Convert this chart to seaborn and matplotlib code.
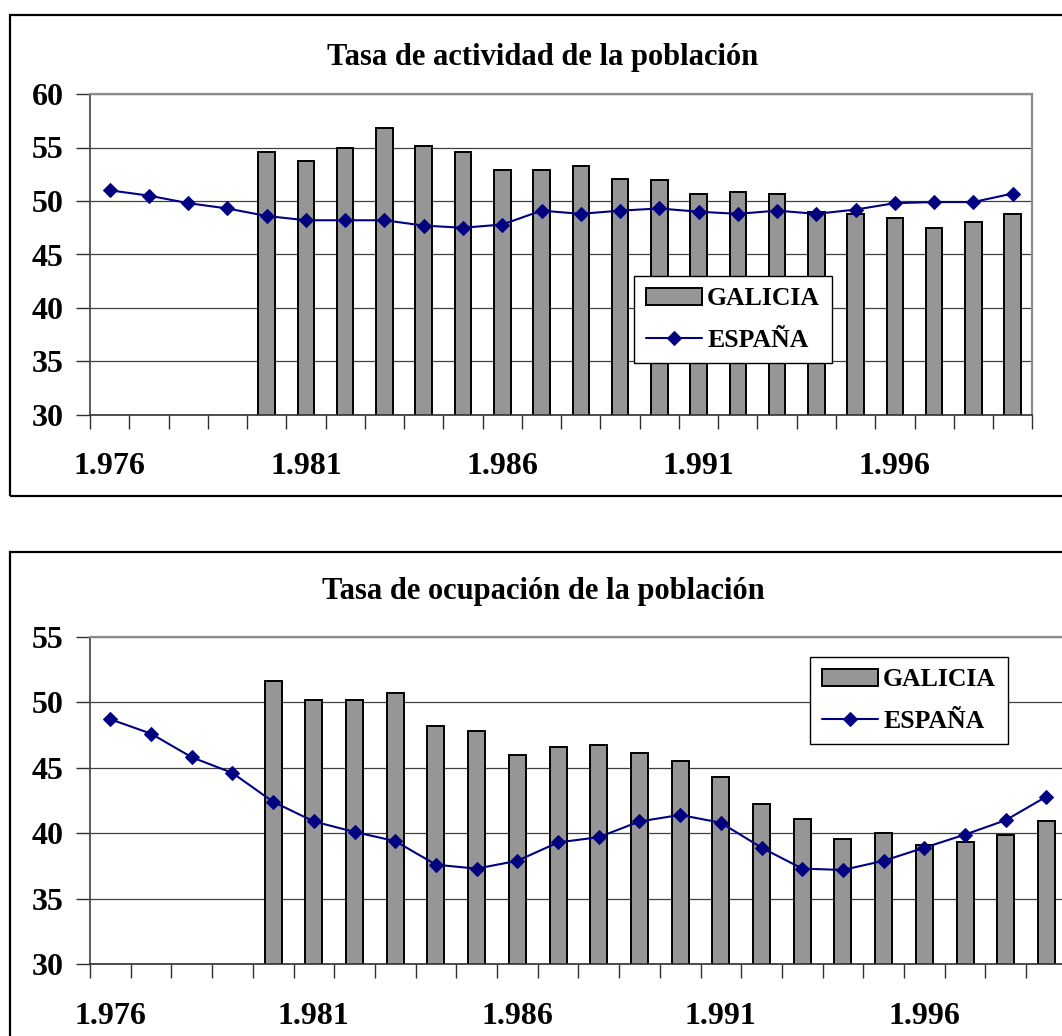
import numpy as np
import pandas as pd
import matplotlib
matplotlib.use("Agg")
import matplotlib.pyplot as plt
from matplotlib.patches import Rectangle
from matplotlib.ticker import FixedLocator, NullFormatter, FixedFormatter
import seaborn as sns

# Years shown on the category axis
years = list(range(1976, 2000))
tick_years = [1976, 1981, 1986, 1991, 1996]
tick_labels = ["1.976", "1.981", "1.986", "1.991", "1.996"]

# Activity rate (%)
actividad_galicia = [np.nan, np.nan, np.nan, np.nan,
                     54.6, 53.7, 55.0, 56.8, 55.1, 54.6, 52.9, 52.9, 53.3,
                     52.1, 52.0, 50.7, 50.8, 50.7, 49.0, 48.8, 48.4, 47.5,
                     48.0, 48.8]
actividad_espana = [51.0, 50.5, 49.8, 49.3, 48.6, 48.2, 48.2, 48.2, 47.7,
                    47.5, 47.8, 49.1, 48.8, 49.1, 49.3, 49.0, 48.8, 49.1,
                    48.8, 49.2, 49.8, 49.9, 49.9, 50.7]

# Employment rate (%)
ocupacion_galicia = [np.nan, np.nan, np.nan, np.nan,
                     51.6, 50.2, 50.2, 50.7, 48.2, 47.8, 46.0, 46.6, 46.7,
                     46.1, 45.5, 44.3, 42.2, 41.1, 39.6, 40.0, 39.1, 39.3,
                     39.9, 40.9]
ocupacion_espana = [48.7, 47.6, 45.8, 44.6, 42.4, 40.9, 40.1, 39.4, 37.6,
                    37.3, 37.9, 39.3, 39.7, 40.9, 41.4, 40.8, 38.9, 37.3,
                    37.2, 37.9, 38.9, 39.9, 41.0, 42.8]

sns.set_style("white")
plt.rcParams["font.family"] = ["Liberation Serif", "DejaVu Serif"]
plt.rcParams["font.weight"] = "bold"
plt.rcParams["text.color"] = "black"
plt.rcParams["xtick.labelcolor"] = "black"
plt.rcParams["ytick.labelcolor"] = "black"

W, H = 1062, 1036
fig = plt.figure(figsize=(W / 100, H / 100), dpi=100)

BAR_COLOR = "#969696"
LINE_COLOR = "#000080"
TICK_FS = 23
LEGEND_FS = 18.5
TITLE_FS = 22


def fx(px):
    return px / W


def fy(py):
    return 1 - py / H


def draw_panel(ax, galicia, espana, ylim, title, title_y, legend_xy):
    df = pd.DataFrame({
        "year": [str(y) for y in years],
        "pos": np.arange(len(years)),
        "GALICIA": galicia,
        "ESPAÑA": espana,
    })
    order = [str(y) for y in years]
    sns.barplot(data=df, x="year", y="GALICIA", order=order, ax=ax,
                color=BAR_COLOR, saturation=1, width=0.42,
                edgecolor="black", linewidth=1.4, label="GALICIA")
    sns.lineplot(data=df, x="pos", y="ESPAÑA", ax=ax, color=LINE_COLOR,
                 linewidth=1.5, marker="D", markersize=7.5,
                 markeredgecolor=LINE_COLOR, label="ESPAÑA")

    ax.set_xlim(-0.5, len(years) - 0.5)
    ax.set_ylim(*ylim)
    ax.set_yticks(np.arange(ylim[0], ylim[1] + 1, 5))
    ax.set_xlabel("")
    ax.set_ylabel("")

    # boundary ticks between categories, labels every five years
    ax.xaxis.set_major_locator(FixedLocator(np.arange(-0.5, len(years), 1)))
    ax.xaxis.set_major_formatter(NullFormatter())
    ax.xaxis.set_minor_locator(FixedLocator([years.index(y) for y in tick_years]))
    ax.xaxis.set_minor_formatter(FixedFormatter(tick_labels))
    ax.tick_params(axis="x", which="major", direction="out", length=10,
                   width=1, color="#303030", bottom=True)
    ax.tick_params(axis="x", which="minor", length=0, pad=27,
                   labelsize=TICK_FS, labelcolor="black")
    ax.tick_params(axis="y", direction="out", length=10, width=1,
                   color="#303030", left=True, labelsize=TICK_FS, pad=9,
                   labelcolor="black")
    for lab in ax.get_xticklabels(minor=True) + ax.get_yticklabels():
        lab.set_fontweight("bold")

    ax.yaxis.grid(True, color="#404040", linewidth=0.9)
    ax.xaxis.grid(False)
    ax.set_axisbelow(True)

    ax.spines["left"].set_color("#404040")
    ax.spines["left"].set_linewidth(1.2)
    ax.spines["bottom"].set_color("#303030")
    ax.spines["bottom"].set_linewidth(1.2)
    for side in ("top", "right"):
        ax.spines[side].set_visible(True)
        ax.spines[side].set_color("#8c8c8c")
        ax.spines[side].set_linewidth(1.6)

    handles, labels = ax.get_legend_handles_labels()
    pairs = dict(zip(labels, handles))
    names = ["GALICIA", "ESPAÑA"]
    leg = ax.legend([pairs[n] for n in names], names,
                    loc="upper left", bbox_to_anchor=legend_xy,
                    bbox_transform=fig.transFigure, frameon=True,
                    fancybox=False, framealpha=1, edgecolor="black",
                    prop={"size": LEGEND_FS, "weight": "bold"},
                    handlelength=2.2, handleheight=0.65, handletextpad=0.2,
                    labelspacing=0.72, borderpad=0.45, borderaxespad=0)
    leg.get_frame().set_linewidth(1.0)
    for t in leg.get_texts():
        t.set_color("black")

    fig.text(fx(543), fy(title_y), title, ha="center", va="center",
             fontsize=TITLE_FS, fontweight="bold", color="black")


# top panel: activity rate
ax1 = fig.add_axes([fx(90), fy(415), fx(1032.3) - fx(90), fy(94) - fy(415)])
draw_panel(ax1, actividad_galicia, actividad_espana, (30, 60),
           "Tasa de actividad de la población", 57, (fx(634), fy(275.7)))

# bottom panel: employment rate
ax2 = fig.add_axes([fx(90), fy(964.3), fx(90 + 24 * 40.7) - fx(90),
                    fy(636.7) - fy(964.3)])
draw_panel(ax2, ocupacion_galicia, ocupacion_espana, (30, 55),
           "Tasa de ocupación de la población", 592, (fx(810), fy(656.7)))

# chart frames
fig.add_artist(Rectangle((fx(10), fy(495.7)), 1.1, fy(15) - fy(495.7),
                         transform=fig.transFigure, fill=False,
                         edgecolor="black", linewidth=1.6, zorder=10))
fig.add_artist(Rectangle((fx(10), -0.1), 1.1, fy(552) + 0.1,
                         transform=fig.transFigure, fill=False,
                         edgecolor="black", linewidth=1.6, zorder=10))

fig.savefig("out.png", dpi=100, facecolor="white")
